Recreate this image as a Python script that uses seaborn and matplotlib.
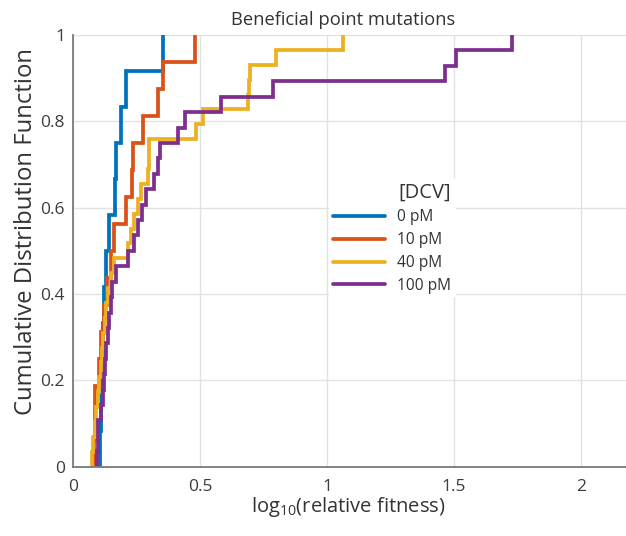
import numpy as np
import matplotlib
matplotlib.use("Agg")
import matplotlib.pyplot as plt
import seaborn as sns

# log10(relative fitness) of beneficial point mutations at each DCV concentration
dcv_labels = ["0 pM", "10 pM", "40 pM", "100 pM"]

fitness_0pM = [0.107, 0.110, 0.113, 0.117, 0.121, 0.129, 0.142, 0.164, 0.168,
               0.188, 0.208, 0.353]

fitness_10pM = [0.083, 0.086, 0.087, 0.101, 0.110, 0.120, 0.133, 0.149, 0.162,
                0.208, 0.232, 0.237, 0.274, 0.333, 0.353, 0.478]

fitness_40pM = [0.075, 0.078, 0.085, 0.090, 0.096, 0.103, 0.108, 0.113, 0.118,
                0.123, 0.128, 0.138, 0.150, 0.162, 0.215, 0.228, 0.241, 0.254,
                0.267, 0.294, 0.298, 0.300, 0.485, 0.511, 0.690, 0.692, 0.698,
                0.798, 1.062]

fitness_100pM = [0.094, 0.096, 0.097, 0.110, 0.117, 0.122, 0.126, 0.130, 0.135,
                 0.141, 0.147, 0.154, 0.169, 0.215, 0.238, 0.254, 0.270, 0.287,
                 0.320, 0.334, 0.340, 0.411, 0.439, 0.584, 0.788, 1.466, 1.510,
                 1.730]

series = [fitness_0pM, fitness_10pM, fitness_40pM, fitness_100pM]
colors = ["#0072BD", "#D95319", "#EDB120", "#7E2F8E"]

x_ticks = [0, 0.5, 1, 1.5, 2]
x_tick_labels = ["0", "0.5", "1", "1.5", "2"]
y_ticks = [0, 0.2, 0.4, 0.6, 0.8, 1]
y_tick_labels = ["0", "0.2", "0.4", "0.6", "0.8", "1"]

sns.set_theme(style="white")
plt.rcParams["font.family"] = ["Open Sans", "DejaVu Sans"]
plt.rcParams["mathtext.fontset"] = "custom"
plt.rcParams["mathtext.rm"] = "Open Sans"
plt.rcParams["mathtext.it"] = "Open Sans:italic"

W, H = 626, 536
fig = plt.figure(figsize=(W / 100, H / 100), dpi=100)
fig.patch.set_facecolor("white")

ax_left, ax_bottom_px, ax_top_px = 73.3, 466.7, 35.0
ax_width_px = 2.2 * 253.7
ax = fig.add_axes([ax_left / W, (H - ax_bottom_px) / H,
                   ax_width_px / W, (ax_bottom_px - ax_top_px) / H])

for vals, lab, col in zip(series, dcv_labels, colors):
    sns.ecdfplot(x=vals, ax=ax, color=col, lw=2.7, label=lab)

# start every step curve at its smallest value rather than at -inf
for line in ax.lines:
    xd, yd = line.get_data()
    xd = np.asarray(xd, dtype=float).copy()
    xd[0] = xd[1]
    line.set_data(xd, yd)
    line.set_solid_joinstyle("miter")

ax.set_xlim(0, 2.2)
ax.set_ylim(0, 1)
ax.set_xticks(x_ticks, x_tick_labels)
ax.set_yticks(y_ticks, y_tick_labels)
ax.grid(True, color="#e2e2e2", lw=1.0)
ax.set_axisbelow(True)

for side in ("top", "right"):
    ax.spines[side].set_visible(False)
for side in ("left", "bottom"):
    ax.spines[side].set_color("#7a7a7a")
    ax.spines[side].set_linewidth(1.3)

ax.tick_params(axis="both", direction="in", length=4, width=1.0,
               color="#7a7a7a", labelcolor="#3c3c3c", labelsize=12.5)
ax.tick_params(axis="x", pad=9)
ax.tick_params(axis="y", pad=6)

ax.set_title("Beneficial point mutations", fontsize=13.2, color="#333333",
             x=0.483, pad=7)
ax.set_xlabel(r"log$_{10}$(relative fitness)", fontsize=14.5, color="#333333")
ax.xaxis.set_label_coords(0.492, -0.066)
ax.set_ylabel("Cumulative Distribution Function", fontsize=17.2, color="#333333")
ax.yaxis.set_label_coords(-0.064, 0.544)

leg = ax.legend(ax.lines, dcv_labels, title="[DCV]", loc="upper left",
                bbox_to_anchor=(321 / W, 1 - 170 / H), bbox_transform=fig.transFigure,
                frameon=True, facecolor="white", edgecolor="none", framealpha=1,
                fontsize=11.2, title_fontsize=14.5, handlelength=3.3,
                handletextpad=0.8, labelspacing=0.44, borderpad=0.3,
                alignment="right")
for t in leg.get_texts():
    t.set_color("#333333")
leg.get_title().set_color("#333333")

fig.savefig("out.png", dpi=100)
